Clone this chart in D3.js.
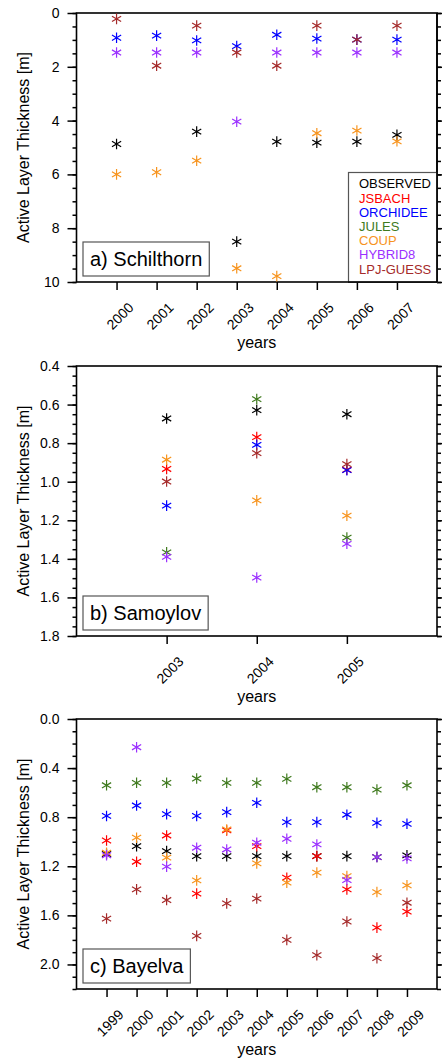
<!DOCTYPE html>
<html>
<head>
<meta charset="utf-8">
<script src="https://cdn.jsdelivr.net/npm/d3@7"></script>
<style>
  body { margin: 0; background: #fff; }
  svg { display: block; font-family: "Liberation Sans", Arial, Helvetica, sans-serif; }
</style>
</head>
<body>
<div id="chart"></div>
<script>
const seriesNames = ['OBSERVED', 'JSBACH', 'ORCHIDEE', 'JULES', 'COUP', 'HYBRID8', 'LPJ-GUESS'];
const seriesColors = ['#000000', '#ff0000', '#0000ff', '#3f7a1e', '#f7941e', '#9b30ff', '#a52a2a'];

// a) Schilthorn
const schilthornYears = [2000, 2001, 2002, 2003, 2004, 2005, 2006, 2007];
const schilthornObserved = [4.87, null, 4.41, 8.5, 4.78, 4.82, 4.78, 4.53];
const schilthornJsbach = [null, null, null, null, null, null, null, null];
const schilthornOrchidee = [0.92, 0.84, 1.02, 1.23, 0.81, 0.95, 0.99, 0.99];
const schilthornJules = [null, null, null, null, null, null, null, null];
const schilthornCoup = [6.0, 5.92, 5.49, 9.49, 9.78, 4.47, 4.37, 4.77];
const schilthornHybrid8 = [1.47, 1.47, 1.47, 4.04, 1.47, 1.47, 1.47, 1.47];
const schilthornLpj = [0.22, 1.96, 0.47, 1.47, 1.96, 0.47, 0.99, 0.47];
const schilthornTicks = [0, 2, 4, 6, 8, 10];

// b) Samoylov
const samoylovYears = [2003, 2004, 2005];
const samoylovObserved = [0.672, 0.629, 0.65];
const samoylovJsbach = [0.934, 0.769, 0.938];
const samoylovOrchidee = [1.124, 0.809, 0.94];
const samoylovJules = [1.366, 0.572, 1.29];
const samoylovCoup = [0.886, 1.097, 1.176];
const samoylovHybrid8 = [1.39, 1.497, 1.322];
const samoylovLpj = [0.999, 0.852, 0.909];
const samoylovTicks = [0.4, 0.6, 0.8, 1.0, 1.2, 1.4, 1.6, 1.8];

// c) Bayelva
const bayelvaYears = [1999, 2000, 2001, 2002, 2003, 2004, 2005, 2006, 2007, 2008, 2009];
const bayelvaObserved = [1.10, 1.036, 1.076, 1.117, 1.117, 1.117, 1.117, 1.117, 1.117, 1.125, 1.111];
const bayelvaJsbach = [0.99, 1.163, 0.949, 1.423, 0.908, 1.036, 1.293, 1.117, 1.388, 1.70, 1.57];
const bayelvaOrchidee = [0.79, 0.705, 0.775, 0.79, 0.759, 0.683, 0.84, 0.84, 0.78, 0.846, 0.854];
const bayelvaJules = [0.54, 0.52, 0.52, 0.485, 0.52, 0.52, 0.488, 0.556, 0.556, 0.575, 0.54];
const bayelvaCoup = [1.09, 0.967, 1.13, 1.315, 0.9, 1.176, 1.333, 1.252, 1.28, 1.41, 1.355];
const bayelvaHybrid8 = [1.11, 0.23, 1.203, 1.049, 1.063, 1.008, 0.976, 1.022, 1.312, 1.125, 1.136];
const bayelvaLpj = [1.626, 1.388, 1.475, 1.767, 1.502, 1.463, 1.8, 1.924, 1.65, 1.949, 1.497];
const bayelvaTicks = [0.0, 0.4, 0.8, 1.2, 1.6, 2.0];

const panels = [
  {
    label: 'a) Schilthorn', years: schilthornYears,
    series: [schilthornObserved, schilthornJsbach, schilthornOrchidee, schilthornJules, schilthornCoup, schilthornHybrid8, schilthornLpj],
    yDomain: [0, 10], ticks: schilthornTicks, minorStep: 0.5, fmt: d3.format('d'),
    top: 13, bottom: 282, legend: true
  },
  {
    label: 'b) Samoylov', years: samoylovYears,
    series: [samoylovObserved, samoylovJsbach, samoylovOrchidee, samoylovJules, samoylovCoup, samoylovHybrid8, samoylovLpj],
    yDomain: [0.4, 1.8], ticks: samoylovTicks, minorStep: 0.05, fmt: d3.format('.1f'),
    top: 366, bottom: 636, legend: false
  },
  {
    label: 'c) Bayelva', years: bayelvaYears,
    series: [bayelvaObserved, bayelvaJsbach, bayelvaOrchidee, bayelvaJules, bayelvaCoup, bayelvaHybrid8, bayelvaLpj],
    yDomain: [0, 2.2], ticks: bayelvaTicks, minorStep: 0.1, fmt: d3.format('.1f'),
    top: 719, bottom: 989, legend: false
  }
];

const width = 442, height = 1061;
const left = 76.5, right = 437;
const fontFamily = '"Liberation Sans", Arial, Helvetica, sans-serif';

const svg = d3.select('#chart').append('svg')
  .attr('width', width)
  .attr('height', height);

// asterisk marker: vertical bar plus two diagonals
const star = (r) => {
  const dx = r * Math.cos(Math.PI / 6), dy = r * Math.sin(Math.PI / 6);
  return `M0,${-r}V${r}M${-dx},${-dy}L${dx},${dy}M${-dx},${dy}L${dx},${-dy}`;
};

panels.forEach(p => {
  const g = svg.append('g');

  const x = d3.scaleLinear()
    .domain([p.years[0] - 1, p.years[p.years.length - 1] + 1])
    .range([left, right]);
  const y = d3.scaleLinear()
    .domain(p.yDomain)
    .range([p.top, p.bottom]);

  const minors = d3.range(p.yDomain[0], p.yDomain[1] + 1e-6, p.minorStep);

  //y axes, left with labels, right without
  g.append('g').attr('transform', `translate(${left},0)`)
    .call(d3.axisLeft(y).tickValues(minors).tickSize(4).tickFormat(''));
  g.append('g').attr('transform', `translate(${left},0)`)
    .call(d3.axisLeft(y).tickValues(p.ticks).tickSize(9).tickPadding(8).tickFormat(p.fmt));
  g.append('g').attr('transform', `translate(${right},0)`)
    .call(d3.axisRight(y).tickValues(minors).tickSize(4).tickFormat(''));
  g.append('g').attr('transform', `translate(${right},0)`)
    .call(d3.axisRight(y).tickValues(p.ticks).tickSize(9).tickFormat(''));

  //x axis
  const xAxisGroup = g.append('g').attr('transform', `translate(0,${p.bottom})`)
    .call(d3.axisBottom(x).tickValues(p.years).tickSize(8).tickFormat(d3.format('d')));

  xAxisGroup.selectAll('text')
    .attr('y', 0)
    .attr('dy', '0.35em')
    .attr('text-anchor', 'middle')
    .attr('transform', 'translate(3,34) rotate(-45)');

  g.selectAll('.domain').remove();
  g.selectAll('.tick line').attr('stroke', '#000').attr('stroke-width', 1.5);
  g.selectAll('.tick text')
    .attr('fill', '#000')
    .attr('font-size', 14)
    .attr('font-family', fontFamily);

  // frame
  g.append('rect')
    .attr('x', left).attr('y', p.top)
    .attr('width', right - left).attr('height', p.bottom - p.top)
    .attr('fill', 'none')
    .attr('stroke', '#000')
    .attr('stroke-width', 1.6);

  // titles
  g.append('text')
    .attr('x', (left + right) / 2)
    .attr('y', p.bottom + 66)
    .attr('text-anchor', 'middle')
    .attr('font-size', 16)
    .text('years');

  g.append('text')
    .attr('transform', `translate(29,${(p.top + p.bottom) / 2}) rotate(-90)`)
    .attr('text-anchor', 'middle')
    .attr('font-size', 16)
    .text('Active Layer Thickness [m]');

  // markers, drawn in series order so later models sit on top
  p.series.forEach((vals, i) => {
    const pts = p.years.map((yr, j) => ({ yr, v: vals[j] })).filter(d => d.v != null);
    g.append('g').selectAll('path')
      .data(pts)
      .enter()
      .append('path')
      .attr('d', star(5.3))
      .attr('transform', d => `translate(${x(d.yr)},${y(d.v)})`)
      .attr('fill', 'none')
      .attr('stroke', seriesColors[i])
      .attr('stroke-width', 1.2);
  });

  // panel label box
  const box = g.append('rect');
  const lab = g.append('text')
    .attr('x', 90)
    .attr('y', p.bottom - 16)
    .attr('font-size', 20)
    .text(p.label);
  const tw = lab.node().getComputedTextLength();
  box.attr('x', 83).attr('y', p.bottom - 40)
    .attr('width', tw + 14).attr('height', 34)
    .attr('fill', '#fff')
    .attr('stroke', '#555')
    .attr('stroke-width', 1.2);

  if (p.legend) {
    const lg = g.append('g');
    lg.append('rect')
      .attr('x', 348.5).attr('y', 172.5)
      .attr('width', right - 348.5).attr('height', p.bottom - 172.5)
      .attr('fill', '#fff')
      .attr('stroke', '#555')
      .attr('stroke-width', 1.2);
    lg.selectAll('text')
      .data(seriesNames)
      .enter()
      .append('text')
      .attr('x', 359)
      .attr('y', (d, i) => 188.3 + i * 14.2)
      .attr('fill', (d, i) => seriesColors[i])
      .attr('font-size', 13)
      .text(d => d);
    // frame edges back on top of legend box
    g.append('line')
      .attr('x1', right).attr('x2', right)
      .attr('y1', p.top).attr('y2', p.bottom)
      .attr('stroke', '#000').attr('stroke-width', 1.6);
    g.append('line')
      .attr('x1', 348).attr('x2', right)
      .attr('y1', p.bottom).attr('y2', p.bottom)
      .attr('stroke', '#000').attr('stroke-width', 1.6);
  }
});
</script>
</body>
</html>
